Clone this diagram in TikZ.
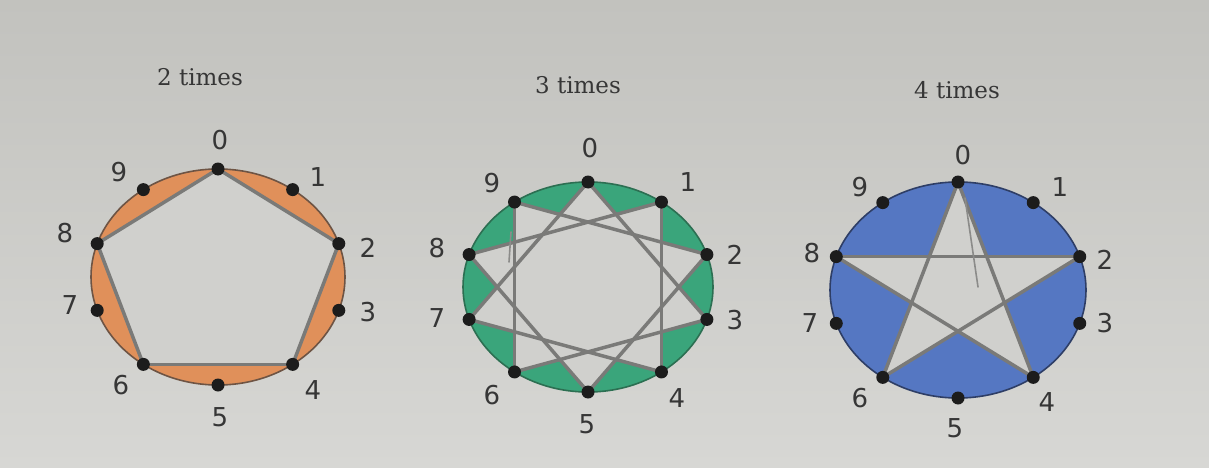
\documentclass[tikz,border=0pt]{standalone}
\usepackage{fontspec}
\newfontfamily\numfont{DejaVu Sans}
\newfontfamily\titlefont{DejaVu Serif}
\definecolor{paper}{HTML}{D0D0CD}
\definecolor{papertop}{HTML}{C2C2BE}
\definecolor{paperbottom}{HTML}{D7D7D4}
\definecolor{orangefill}{HTML}{E0905A}
\definecolor{orangerim}{HTML}{6E5444}
\definecolor{greenfill}{HTML}{3AA57B}
\definecolor{greenrim}{HTML}{2C6F52}
\definecolor{bluefill}{HTML}{5577C2}
\definecolor{bluerim}{HTML}{2E3E66}
\definecolor{chord}{HTML}{7A7A78}
\definecolor{ink}{HTML}{1C1C1C}
\definecolor{numink}{HTML}{363636}
\tikzset{
  dotnode/.style={circle,fill=ink,inner sep=0pt,minimum size=13pt},
  numlabel/.style={font=\numfont\fontsize{26}{26}\selectfont,text=numink,inner sep=0pt},
  titlelabel/.style={font=\titlefont\fontsize{23}{23}\selectfont,text=numink,inner sep=0pt},
  chordline/.style={draw=chord,line width=3.5pt,line cap=round},
  pencil/.style={draw=chord!80!paper,line width=1.6pt,line cap=round},
  rim/.style={line width=1.6pt},
}
\begin{document}
\begin{tikzpicture}[x=1pt,y=-1pt]
\shade[top color=papertop,bottom color=paperbottom] (0,0) rectangle (1209,468);
\useasboundingbox (0,0) rectangle (1209,468);

% ---------- points ----------
\foreach \k in {0,...,9} {
  \coordinate (a\k) at ({218+127*sin(36*\k)},{277-108*cos(36*\k)});
  \coordinate (b\k) at ({588+125*sin(36*\k)},{287-105*cos(36*\k)});
  \coordinate (c\k) at ({958+128*sin(36*\k)},{290-108*cos(36*\k)});
}

% ---------- titles ----------
\node[titlelabel] (t1) at (200,77) {2 times};
\node[titlelabel] (t2) at (578,85) {3 times};
\node[titlelabel] (t3) at (957,90) {4 times};

% ---------- 2 times ----------
\fill[orangefill] (218,277) ellipse [x radius=127, y radius=108];
\fill[paper] (a0) -- (a2) -- (a4) -- (a6) -- (a8) -- cycle;
\draw[rim,draw=orangerim] (218,277) ellipse [x radius=127, y radius=108];
\draw[chordline] (a0) -- (a2);
\draw[chordline] (a2) -- (a4);
\draw[chordline] (a4) -- (a6);
\draw[chordline] (a6) -- (a8);
\draw[chordline] (a8) -- (a0);

% ---------- 3 times ----------
\fill[greenfill] (588,287) ellipse [x radius=125, y radius=105];
\fill[paper] (b0) -- (b3) -- (b6) -- (b9) -- (b2) -- (b5) -- (b8) -- (b1) -- (b4) -- (b7) -- cycle;
\draw[rim,draw=greenrim] (588,287) ellipse [x radius=125, y radius=105];
\draw[chordline] (b0) -- (b3);
\draw[chordline] (b3) -- (b6);
\draw[chordline] (b6) -- (b9);
\draw[chordline] (b9) -- (b2);
\draw[chordline] (b2) -- (b5);
\draw[chordline] (b5) -- (b8);
\draw[chordline] (b8) -- (b1);
\draw[chordline] (b1) -- (b4);
\draw[chordline] (b4) -- (b7);
\draw[chordline] (b7) -- (b0);
\coordinate (s1) at (511,232);
\coordinate (s2) at (509,262);
\draw[pencil] (s1) -- (s2);

% ---------- 4 times ----------
\fill[bluefill] (958,290) ellipse [x radius=128, y radius=108];
\fill[paper] (c0) -- (c4) -- (c8) -- (c2) -- (c6) -- cycle;
\draw[rim,draw=bluerim] (958,290) ellipse [x radius=128, y radius=108];
\draw[chordline] (c0) -- (c4);
\draw[chordline] (c4) -- (c8);
\draw[chordline] (c8) -- (c2);
\draw[chordline] (c2) -- (c6);
\draw[chordline] (c6) -- (c0);
\coordinate (s3) at (965,198);
\coordinate (s4) at (978,287);
\draw[pencil] (s3) -- (s4);

% ---------- dots ----------
\foreach \k in {0,...,9} {
  \node[dotnode] (da\k) at (a\k) {};
  \node[dotnode] (db\k) at (b\k) {};
  \node[dotnode] (dc\k) at (c\k) {};
}

% ---------- labels ----------
\node[numlabel] (la0) at (220,140) {0};
\node[numlabel] (la1) at (318,177) {1};
\node[numlabel] (la2) at (368,248) {2};
\node[numlabel] (la3) at (368,312) {3};
\node[numlabel] (la4) at (313,390) {4};
\node[numlabel] (la5) at (220,417) {5};
\node[numlabel] (la6) at (121,385) {6};
\node[numlabel] (la7) at (70,305) {7};
\node[numlabel] (la8) at (65,233) {8};
\node[numlabel] (la9) at (119,172) {9};

\node[numlabel] (lb0) at (590,148) {0};
\node[numlabel] (lb1) at (688,182) {1};
\node[numlabel] (lb2) at (735,255) {2};
\node[numlabel] (lb3) at (735,320) {3};
\node[numlabel] (lb4) at (677,398) {4};
\node[numlabel] (lb5) at (587,424) {5};
\node[numlabel] (lb6) at (492,395) {6};
\node[numlabel] (lb7) at (437,318) {7};
\node[numlabel] (lb8) at (437,248) {8};
\node[numlabel] (lb9) at (492,183) {9};

\node[numlabel] (lc0) at (963,155) {0};
\node[numlabel] (lc1) at (1060,187) {1};
\node[numlabel] (lc2) at (1105,260) {2};
\node[numlabel] (lc3) at (1105,323) {3};
\node[numlabel] (lc4) at (1047,402) {4};
\node[numlabel] (lc5) at (955,428) {5};
\node[numlabel] (lc6) at (860,398) {6};
\node[numlabel] (lc7) at (810,323) {7};
\node[numlabel] (lc8) at (812,253) {8};
\node[numlabel] (lc9) at (860,187) {9};
\end{tikzpicture}
\end{document}
